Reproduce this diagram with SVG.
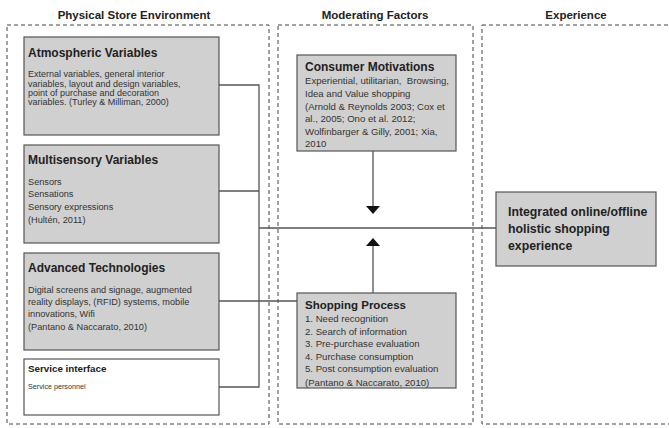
<svg xmlns="http://www.w3.org/2000/svg" width="669" height="428" viewBox="0 0 669 428">
<style>
.panel{fill:none;stroke:#444;stroke-width:1;stroke-dasharray:4 3}
.box{fill:#d0d0d0;stroke:#555;stroke-width:1.2}
.wbox{fill:#fff;stroke:#555;stroke-width:1.2}
.hd{font-family:"Liberation Sans",Arial,sans-serif;font-weight:bold;font-size:11.5px;fill:#222;text-anchor:middle}
.t{font-family:"Liberation Sans",Arial,sans-serif;font-weight:bold;font-size:12px;fill:#222}
.b{font-family:"Liberation Sans",Arial,sans-serif;font-size:9.2px;fill:#333}
.m{font-family:"Liberation Sans",Arial,sans-serif;font-size:9.6px;fill:#333}
.s{font-family:"Liberation Sans",Arial,sans-serif;font-size:7.2px;fill:#333}
.ln{fill:none;stroke:#555;stroke-width:1.3}
</style>
<rect width="669" height="428" fill="#fff"/>
<g id="headings">
<text class="hd" x="134" y="19">Physical Store Environment</text>
<text class="hd" x="375" y="19">Moderating Factors</text>
<text class="hd" x="576" y="19">Experience</text>
</g>
<g id="panels">
<rect class="panel" x="7" y="25" width="262" height="399"/>
<rect class="panel" x="278" y="25" width="195" height="399"/>
<rect class="panel" x="482" y="25" width="200" height="399"/>
</g>
<g id="connectors">
<polyline class="ln" points="219,85 259,85 259,387 219,387"/>
<line class="ln" x1="219" y1="191" x2="259" y2="191"/>
<line class="ln" x1="219" y1="301" x2="297" y2="301"/>
<line class="ln" x1="259" y1="228" x2="496" y2="228"/>
<line class="ln" x1="373" y1="151" x2="373" y2="206"/>
<polygon points="366,206 380,206 373,214" fill="#111"/>
<line class="ln" x1="373" y1="293" x2="373" y2="246"/>
<polygon points="366,246 380,246 373,238" fill="#111"/>
</g>
<g id="atmospheric">
<rect class="box" x="24" y="37" width="195" height="98"/>
<text class="t" x="28" y="57">Atmospheric Variables</text>
<text class="b" x="28" y="77" style="font-size:9px">External variables, general interior</text>
<text class="b" x="28" y="87" style="font-size:9px">variables, layout and design variables,</text>
<text class="b" x="28" y="96" style="font-size:9px">point of purchase and decoration</text>
<text class="b" x="28" y="105" style="font-size:9px">variables. (Turley &amp; Milliman, 2000)</text>
</g>
<g id="multisensory">
<rect class="box" x="24" y="145" width="195" height="98"/>
<text class="t" x="28" y="164">Multisensory Variables</text>
<text class="b" x="28" y="185">Sensors</text>
<text class="b" x="28" y="197">Sensations</text>
<text class="b" x="28" y="210">Sensory expressions</text>
<text class="b" x="28" y="223">(Hultén, 2011)</text>
</g>
<g id="advanced">
<rect class="box" x="24" y="253" width="195" height="97"/>
<text class="t" x="28" y="272">Advanced Technologies</text>
<text class="b" x="28" y="293">Digital screens and signage, augmented</text>
<text class="b" x="28" y="305">reality displays, (RFID) systems, mobile</text>
<text class="b" x="28" y="317">innovations, Wifi</text>
<text class="b" x="28" y="330">(Pantano &amp; Naccarato, 2010)</text>
</g>
<g id="service">
<rect class="wbox" x="24" y="359" width="195" height="56"/>
<text class="t" x="28" y="372" style="font-size:9.8px">Service interface</text>
<text class="s" x="28" y="389">Service personnel</text>
</g>
<g id="motivations">
<rect class="box" x="297" y="55" width="159" height="96"/>
<text class="t" x="305" y="71">Consumer Motivations</text>
<text class="m" x="305" y="84" xml:space="preserve">Experiential, utilitarian,  Browsing,</text>
<text class="m" x="305" y="97">Idea and Value shopping</text>
<text class="m" x="305" y="110">(Arnold &amp; Reynolds 2003; Cox et</text>
<text class="m" x="305" y="122">al., 2005; Ono et al. 2012;</text>
<text class="m" x="305" y="135">Wolfinbarger &amp; Gilly, 2001; Xia,</text>
<text class="m" x="305" y="147">2010</text>
</g>
<g id="shopping">
<rect class="box" x="297" y="293" width="159" height="95"/>
<text class="t" x="305" y="309" style="font-size:11.5px">Shopping Process</text>
<text class="m" x="305" y="322">1. Need recognition</text>
<text class="m" x="305" y="335">2. Search of information</text>
<text class="m" x="305" y="347">3. Pre-purchase evaluation</text>
<text class="m" x="305" y="360">4. Purchase consumption</text>
<text class="m" x="305" y="372">5. Post consumption evaluation</text>
<text class="m" x="305" y="386">(Pantano &amp; Naccarato, 2010)</text>
</g>
<g id="experience">
<rect class="box" x="496" y="192" width="160" height="74"/>
<text class="t" x="508" y="216" style="font-size:12.3px">Integrated online/offline</text>
<text class="t" x="508" y="233" style="font-size:12.3px">holistic shopping</text>
<text class="t" x="508" y="250" style="font-size:12.3px">experience</text>
</g>
</svg>
